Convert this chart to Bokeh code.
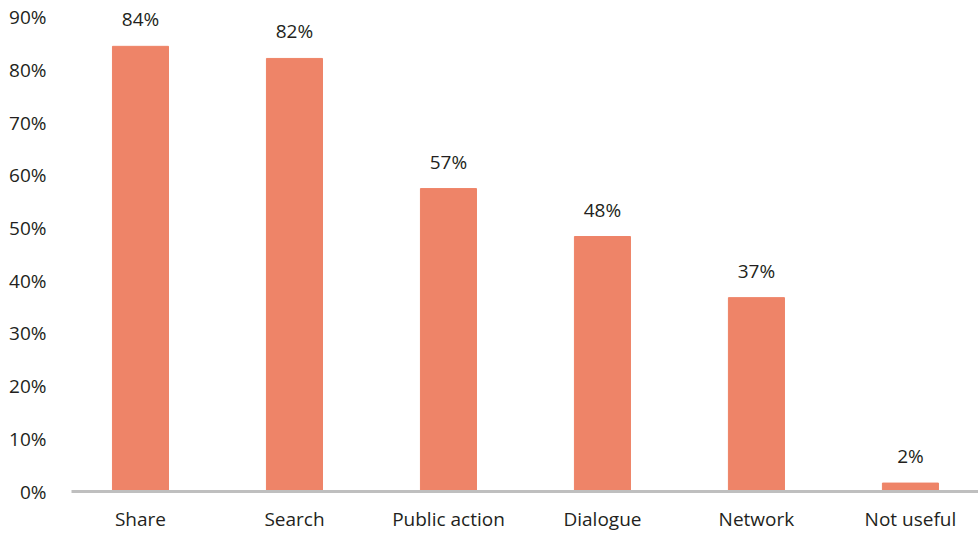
from bokeh.plotting import figure
from bokeh.models import Range1d, FixedTicker, ColumnDataSource
from bokeh.embed import file_html
from bokeh.resources import INLINE
from bokeh.core.properties import value

categories = ["Share", "Search", "Public action", "Dialogue", "Network", "Not useful"]
values = [84.5, 82.2, 57.5, 48.4, 36.8, 1.6]
labels = ["84%", "82%", "57%", "48%", "37%", "2%"]
y_ticks = [0, 10, 20, 30, 40, 50, 60, 70, 80, 90]

FONT = "Open Sans"
TXT = "#231F20"
BAR = "#EE8468"

idx = list(range(len(categories)))
src = ColumnDataSource(dict(x=idx, top=values, label=labels))

p = figure(width=978, height=534, output_backend="svg", toolbar_location=None,
           x_range=Range1d(-0.448, 5.442), y_range=Range1d(0, 93.2),
           min_border_left=71, min_border_right=0, min_border_top=0, min_border_bottom=43)
p.outline_line_color = None
p.xgrid.grid_line_color = None
p.ygrid.grid_line_color = None
p.background_fill_color = "white"
p.border_fill_color = "white"

p.vbar(x="x", top="top", bottom=0, width=0.364, color=BAR, source=src)
p.text(x="x", y="top", text="label", source=src, text_align="center",
       text_baseline="middle", y_offset=-27, text_font=value(FONT),
       text_font_size="19px", text_color=TXT)

xa = p.xaxis[0]
xa.ticker = FixedTicker(ticks=idx)
xa.major_label_overrides = {i: c for i, c in zip(idx, categories)}
xa.axis_line_color = "#BFBFBF"
xa.axis_line_width = 3
xa.major_tick_line_color = None
xa.minor_tick_line_color = None
xa.major_tick_out = 0
xa.major_tick_in = 0
xa.minor_tick_out = 0
xa.major_label_standoff = 14
xa.major_label_text_font = FONT
xa.major_label_text_font_size = "19px"
xa.major_label_text_color = TXT

ya = p.yaxis[0]
ya.ticker = FixedTicker(ticks=y_ticks)
ya.major_label_overrides = {t: f"{t}%" for t in y_ticks}
ya.axis_line_color = None
ya.major_tick_line_color = None
ya.minor_tick_line_color = None
ya.major_tick_out = 0
ya.major_tick_in = 0
ya.minor_tick_out = 0
ya.major_label_standoff = 25
ya.major_label_text_font = FONT
ya.major_label_text_font_size = "19px"
ya.major_label_text_color = TXT

open("out.html", "w").write(file_html(p, INLINE))
